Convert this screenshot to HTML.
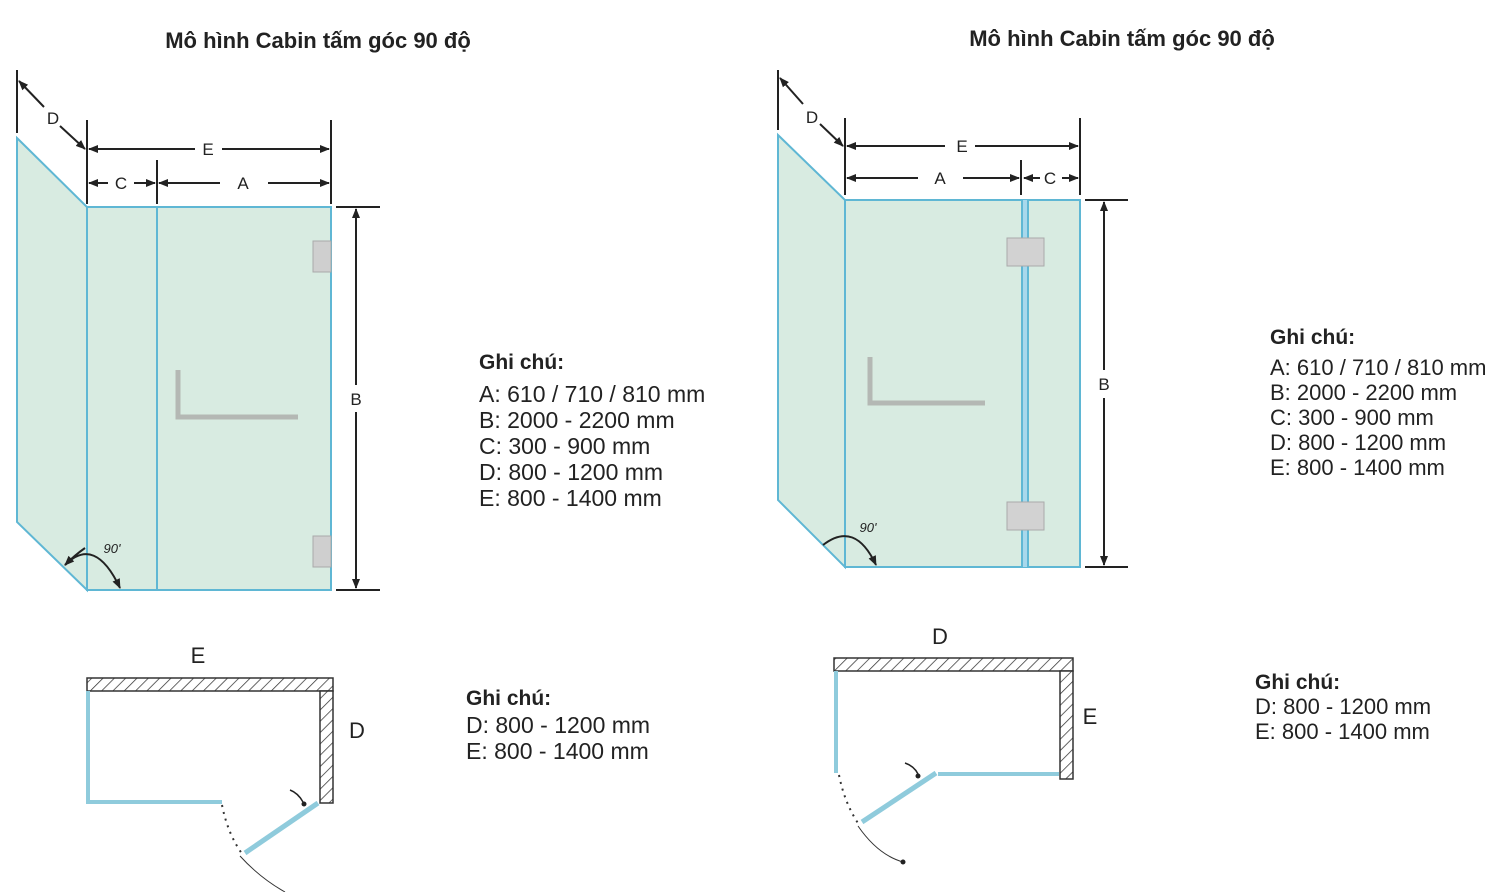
<!DOCTYPE html>
<html><head><meta charset="utf-8"><style>
html,body{margin:0;padding:0;background:#fff;width:1500px;height:892px;overflow:hidden}
svg{display:block}
text{font-family:"Liberation Sans",sans-serif;fill:#222}
.t{font-weight:bold;font-size:22px}
.n{font-size:23px}
.nb{font-size:21px;font-weight:bold}
.n2{font-size:22px}
.l{font-size:17px}
.big{font-size:22px}
</style></head><body>
<svg width="1500" height="892" viewBox="0 0 1500 892" xmlns="http://www.w3.org/2000/svg">
<defs>
<marker id="ar" markerWidth="10" markerHeight="10" refX="9" refY="5" orient="auto" markerUnits="userSpaceOnUse"><path d="M0,1 L10,5 L0,9z" fill="#222"/></marker>
<pattern id="h" width="8" height="8" patternUnits="userSpaceOnUse" patternTransform="rotate(45)"><rect width="8" height="8" fill="#fff"/><line x1="0" y1="0" x2="0" y2="8" stroke="#333" stroke-width="1.5"/></pattern>
</defs>

<text class="t" x="318" y="48" text-anchor="middle">Mô hình Cabin tấm góc 90 độ</text>
<text class="t" x="1122" y="46" text-anchor="middle">Mô hình Cabin tấm góc 90 độ</text>

<!-- LEFT CABIN -->
<g stroke="#5fb7d4" stroke-width="2" fill="#d8ebe1">
<polygon points="17,138 87,207 87,590 17,522"/>
<rect x="87" y="207" width="244" height="383"/>
<line x1="157" y1="207" x2="157" y2="590"/>
</g>
<g fill="#cfcfcf" stroke="#aaa"><rect x="313" y="241" width="18" height="31"/><rect x="313" y="536" width="18" height="31"/></g>
<path d="M178,370 V417 H298" stroke="#b4b8b4" stroke-width="5" fill="none"/>
<g stroke="#222" stroke-width="2" fill="none">
<line x1="17" y1="70" x2="17" y2="133"/>
<line x1="87" y1="120" x2="87" y2="204"/>
<line x1="331" y1="120" x2="331" y2="204"/>
<line x1="157" y1="160" x2="157" y2="204"/>
<line x1="44" y1="107" x2="19" y2="81" marker-end="url(#ar)"/>
<line x1="60" y1="126" x2="85" y2="149" marker-end="url(#ar)"/>
<line x1="195" y1="149" x2="89" y2="149" marker-end="url(#ar)"/>
<line x1="222" y1="149" x2="329" y2="149" marker-end="url(#ar)"/>
<line x1="108" y1="183" x2="89" y2="183" marker-end="url(#ar)"/>
<line x1="134" y1="183" x2="155" y2="183" marker-end="url(#ar)"/>
<line x1="220" y1="183" x2="159" y2="183" marker-end="url(#ar)"/>
<line x1="268" y1="183" x2="329" y2="183" marker-end="url(#ar)"/>
<line x1="336" y1="207" x2="380" y2="207"/>
<line x1="336" y1="590" x2="380" y2="590"/>
<line x1="356" y1="385" x2="356" y2="209" marker-end="url(#ar)"/>
<line x1="356" y1="412" x2="356" y2="588" marker-end="url(#ar)"/>
<path d="M65,565 Q95,535 120,588" marker-end="url(#ar)"/>
</g>
<path d="M85,548 Q75,555 65,565" stroke="#222" stroke-width="2" fill="none" marker-end="url(#ar)"/>
<text class="l" x="53" y="124" text-anchor="middle">D</text>
<text class="l" x="208" y="155" text-anchor="middle">E</text>
<text class="l" x="121" y="189" text-anchor="middle">C</text>
<text class="l" x="243" y="189" text-anchor="middle">A</text>
<text class="l" x="356" y="405" text-anchor="middle">B</text>
<text x="112" y="553" font-size="13" font-style="italic" text-anchor="middle">90'</text>

<!-- LEFT NOTES -->
<text class="nb" x="479" y="369">Ghi chú:</text>
<text class="n" x="479" y="402">A: 610 / 710 / 810 mm</text>
<text class="n" x="479" y="428">B: 2000 - 2200 mm</text>
<text class="n" x="479" y="454">C: 300 - 900 mm</text>
<text class="n" x="479" y="480">D: 800 - 1200 mm</text>
<text class="n" x="479" y="506">E: 800 - 1400 mm</text>

<!-- RIGHT CABIN -->
<g stroke="#5fb7d4" stroke-width="2" fill="#d8ebe1">
<polygon points="778,135 845,200 845,567 778,500"/>
<rect x="845" y="200" width="235" height="367"/>
<line x1="1022" y1="200" x2="1022" y2="567"/>
<line x1="1028" y1="200" x2="1028" y2="567"/>
</g>
<rect x="1023" y="200" width="4" height="367" fill="#a8d8ec"/>
<g fill="#d2d2d2" stroke="#aaa"><rect x="1007" y="238" width="37" height="28"/><rect x="1007" y="502" width="37" height="28"/></g>
<path d="M870,357 V403 H985" stroke="#b4b8b4" stroke-width="5" fill="none"/>
<g stroke="#222" stroke-width="2" fill="none">
<line x1="778" y1="70" x2="778" y2="130"/>
<line x1="845" y1="118" x2="845" y2="195"/>
<line x1="1080" y1="118" x2="1080" y2="195"/>
<line x1="1021" y1="160" x2="1021" y2="195"/>
<line x1="803" y1="104" x2="780" y2="78" marker-end="url(#ar)"/>
<line x1="820" y1="124" x2="843" y2="146" marker-end="url(#ar)"/>
<line x1="945" y1="146" x2="847" y2="146" marker-end="url(#ar)"/>
<line x1="975" y1="146" x2="1078" y2="146" marker-end="url(#ar)"/>
<line x1="918" y1="178" x2="847" y2="178" marker-end="url(#ar)"/>
<line x1="963" y1="178" x2="1019" y2="178" marker-end="url(#ar)"/>
<line x1="1040" y1="178" x2="1024" y2="178" marker-end="url(#ar)"/>
<line x1="1062" y1="178" x2="1078" y2="178" marker-end="url(#ar)"/>
<line x1="1085" y1="200" x2="1128" y2="200"/>
<line x1="1085" y1="567" x2="1128" y2="567"/>
<line x1="1104" y1="370" x2="1104" y2="202" marker-end="url(#ar)"/>
<line x1="1104" y1="398" x2="1104" y2="565" marker-end="url(#ar)"/>
<path d="M823,545 Q855,520 876,565" marker-end="url(#ar)"/>
</g>
<text class="l" x="812" y="123" text-anchor="middle">D</text>
<text class="l" x="962" y="152" text-anchor="middle">E</text>
<text class="l" x="1050" y="184" text-anchor="middle">C</text>
<text class="l" x="940" y="184" text-anchor="middle">A</text>
<text class="l" x="1104" y="390" text-anchor="middle">B</text>
<text x="868" y="532" font-size="13" font-style="italic" text-anchor="middle">90'</text>

<!-- RIGHT NOTES -->
<text class="nb" x="1270" y="344">Ghi chú:</text>
<text class="n2" x="1270" y="375">A: 610 / 710 / 810 mm</text>
<text class="n2" x="1270" y="400">B: 2000 - 2200 mm</text>
<text class="n2" x="1270" y="425">C: 300 - 900 mm</text>
<text class="n2" x="1270" y="450">D: 800 - 1200 mm</text>
<text class="n2" x="1270" y="475">E: 800 - 1400 mm</text>

<!-- LEFT FLOOR PLAN -->
<rect x="87" y="678" width="246" height="13" fill="url(#h)" stroke="#333" stroke-width="1.5"/>
<rect x="320" y="691" width="13" height="112" fill="url(#h)" stroke="#333" stroke-width="1.5"/>
<path d="M88,691 V802 H222" stroke="#8fcbdc" stroke-width="4" fill="none"/>
<line x1="318" y1="803" x2="245" y2="853" stroke="#8fcbdc" stroke-width="5"/>
<path d="M222,805 Q228,835 243,855" stroke="#333" stroke-width="2" stroke-dasharray="2,5" fill="none"/>
<path d="M240,856 Q260,878 285,892" stroke="#333" stroke-width="1" fill="none"/>
<path d="M290,790 Q298,793 303,802" stroke="#222" stroke-width="1.5" fill="none"/>
<circle cx="304" cy="804" r="2.5" fill="#222"/>
<text class="big" x="198" y="663" text-anchor="middle">E</text>
<text class="big" x="357" y="738" text-anchor="middle">D</text>
<text class="nb" x="466" y="705">Ghi chú:</text>
<text class="n" x="466" y="733">D: 800 - 1200 mm</text>
<text class="n" x="466" y="759">E: 800 - 1400 mm</text>

<!-- RIGHT FLOOR PLAN -->
<rect x="834" y="658" width="239" height="13" fill="url(#h)" stroke="#333" stroke-width="1.5"/>
<rect x="1060" y="671" width="13" height="108" fill="url(#h)" stroke="#333" stroke-width="1.5"/>
<line x1="836" y1="671" x2="836" y2="773" stroke="#8fcbdc" stroke-width="4"/>
<line x1="938" y1="774" x2="1059" y2="774" stroke="#8fcbdc" stroke-width="4"/>
<line x1="936" y1="773" x2="862" y2="822" stroke="#8fcbdc" stroke-width="5"/>
<path d="M839,775 Q845,805 860,826" stroke="#333" stroke-width="2" stroke-dasharray="2,5" fill="none"/>
<path d="M858,826 Q878,855 903,862" stroke="#333" stroke-width="1" fill="none"/>
<circle cx="903" cy="862" r="2.5" fill="#222"/>
<path d="M905,763 Q914,766 918,774" stroke="#222" stroke-width="1.5" fill="none"/>
<circle cx="918" cy="776" r="2.5" fill="#222"/>
<text class="big" x="940" y="644" text-anchor="middle">D</text>
<text class="big" x="1090" y="724" text-anchor="middle">E</text>
<text class="nb" x="1255" y="689">Ghi chú:</text>
<text class="n2" x="1255" y="714">D: 800 - 1200 mm</text>
<text class="n2" x="1255" y="739">E: 800 - 1400 mm</text>
</svg>
</body></html>
